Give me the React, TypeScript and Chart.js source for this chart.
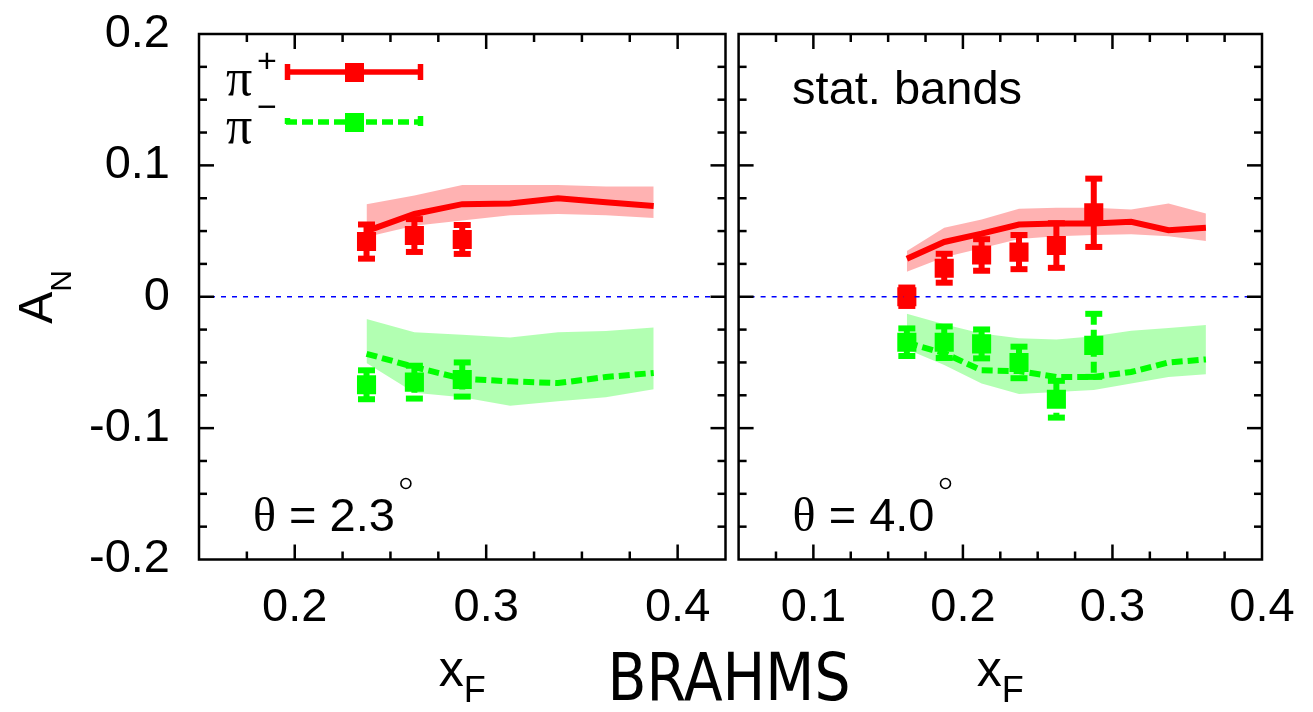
import React, { useEffect, useRef } from "react";
import { Chart, registerables } from "chart.js";
Chart.register(...registerables);

// ---------------- data ----------------
const xDataLeft = [0.2375, 0.2625, 0.2875];
const piPlusLeft = [0.042, 0.0466, 0.0436];
const piPlusErrLeft = [0.013, 0.0125, 0.011];
const piMinusLeft = [-0.067, -0.065, -0.063];
const piMinusErrLeft = [0.011, 0.0125, 0.013];

const xTheoryLeft = [0.2375, 0.2625, 0.2875, 0.3125, 0.3375, 0.3625, 0.3875];
const plusCurveLeft = [0.05, 0.063, 0.0705, 0.071, 0.075, 0.072, 0.069];
const plusUpperLeft = [0.0705, 0.077, 0.085, 0.085, 0.085, 0.084, 0.084];
const plusLowerLeft = [0.0455, 0.054, 0.058, 0.062, 0.063, 0.062, 0.06];
const minusCurveLeft = [-0.0434, -0.0535, -0.0624, -0.0644, -0.0657, -0.0611, -0.058];
const minusUpperLeft = [-0.017, -0.027, -0.029, -0.031, -0.027, -0.026, -0.0235];
const minusLowerLeft = [-0.0505, -0.073, -0.0765, -0.083, -0.0795, -0.0765, -0.0705];

const xDataRight = [0.1625, 0.1875, 0.2125, 0.2375, 0.2625, 0.2875];
const piPlusRight = [0.0, 0.0217, 0.0318, 0.034, 0.039, 0.0639];
const piPlusErrRight = [0.007, 0.011, 0.012, 0.013, 0.017, 0.026];
const piMinusRight = [-0.0346, -0.0346, -0.0359, -0.05, -0.078, -0.037];
const piMinusErrRight = [0.0105, 0.012, 0.011, 0.012, 0.014, 0.024];

const xTheoryRight = [0.1625, 0.1875, 0.2125, 0.2375, 0.2625, 0.2875, 0.3125, 0.3375, 0.3625];
const plusCurveRight = [0.029, 0.0417, 0.048, 0.055, 0.0558, 0.0558, 0.057, 0.0507, 0.0525];
const plusUpperRight = [0.0348, 0.0525, 0.0588, 0.067, 0.0677, 0.0677, 0.0664, 0.071, 0.0634];
const plusLowerRight = [0.019, 0.03, 0.037, 0.044, 0.046, 0.047, 0.0475, 0.046, 0.0424];
const minusCurveRight = [-0.035, -0.043, -0.056, -0.0566, -0.061, -0.061, -0.0573, -0.05, -0.0477];
const minusUpperRight = [-0.013, -0.021, -0.028, -0.0316, -0.0326, -0.03, -0.0258, -0.0237, -0.0215];
const minusLowerRight = [-0.04, -0.052, -0.066, -0.074, -0.0725, -0.071, -0.066, -0.061, -0.059];

const yTickValues = [-0.2, -0.1, 0, 0.1, 0.2];
const xTickValuesLeft = [0.2, 0.3, 0.4];
const xTickValuesRight = [0.1, 0.2, 0.3, 0.4];
const xRangeLeft = [0.15, 0.425];
const xRangeRight = [0.05, 0.4];
const yRange = [-0.2, 0.2];
const minorStep = 0.025;
const angleLabels = ["2.3", "4.0"];

// ---------------- styles ----------------
const W = 1313;
const H = 712;
const SANS = '"Liberation Sans", Arial, Helvetica, sans-serif';
const SERIF = '"Liberation Serif", "Times New Roman", serif';
const RED = "#ff0000";
const GREEN = "#00ff00";
const RED_BAND = "rgba(255,0,0,0.3)";
const GREEN_BAND = "rgba(0,255,0,0.3)";
const DASH = [11, 5];

const pts = (xs: number[], ys: number[]) => xs.map((x, i) => ({ x, y: ys[i] }));

function line(ctx: CanvasRenderingContext2D, x1: number, y1: number, x2: number, y2: number) {
  ctx.beginPath();
  ctx.moveTo(x1, y1);
  ctx.lineTo(x2, y2);
  ctx.stroke();
}

const errorBarPlugin = {
  id: "errbars",
  afterDatasetsDraw(chart: any) {
    const ctx = chart.ctx as CanvasRenderingContext2D;
    const ys = chart.scales.y;
    chart.data.datasets.forEach((ds: any, di: number) => {
      if (!ds.errors) return;
      const meta = chart.getDatasetMeta(di);
      ctx.save();
      ctx.strokeStyle = ds.backgroundColor;
      ctx.lineWidth = 6;
      meta.data.forEach((pt: any, i: number) => {
        const v = ds.data[i].y;
        const e = ds.errors[i];
        const top = ys.getPixelForValue(v + e);
        const bot = ys.getPixelForValue(v - e);
        ctx.setLineDash(ds.errDash || []);
        line(ctx, pt.x, top, pt.x, bot);
        ctx.setLineDash([]);
        line(ctx, pt.x - 8.5, top, pt.x + 8.5, top);
        line(ctx, pt.x - 8.5, bot, pt.x + 8.5, bot);
      });
      ctx.restore();
    });
  },
};

function drawFrame(chart: any, xr: number[]) {
  const ctx = chart.ctx as CanvasRenderingContext2D;
  const a = chart.chartArea;
  const xs = chart.scales.x;
  const ys = chart.scales.y;
  ctx.save();
  ctx.strokeStyle = "#000";
  ctx.lineWidth = 2.5;
  ctx.setLineDash([]);
  const nx = Math.round((xr[1] - xr[0]) / minorStep);
  for (let i = 1; i < nx; i++) {
    const v = xr[0] + i * minorStep;
    const major = Math.abs(v * 10 - Math.round(v * 10)) < 1e-6;
    const len = major ? 15 : 8;
    const px = xs.getPixelForValue(v);
    line(ctx, px, a.bottom, px, a.bottom - len);
    line(ctx, px, a.top, px, a.top + len);
  }
  const ny = Math.round((yRange[1] - yRange[0]) / minorStep);
  for (let i = 1; i < ny; i++) {
    const v = yRange[0] + i * minorStep;
    const major = Math.abs(v * 10 - Math.round(v * 10)) < 1e-6;
    const len = major ? 15 : 8;
    const py = ys.getPixelForValue(v);
    line(ctx, a.left, py, a.left + len, py);
    line(ctx, a.right, py, a.right - len, py);
  }
  ctx.strokeRect(a.left, a.top, a.right - a.left, a.bottom - a.top);
  ctx.restore();
}

function drawXTitle(ctx: CanvasRenderingContext2D, cx: number) {
  ctx.save();
  ctx.fillStyle = "#000";
  ctx.textBaseline = "alphabetic";
  ctx.textAlign = "left";
  ctx.font = `50px ${SANS}`;
  const wx = ctx.measureText("x").width;
  ctx.font = `36px ${SANS}`;
  const wf = ctx.measureText("F").width;
  const start = cx - (wx + wf) / 2;
  ctx.font = `50px ${SANS}`;
  ctx.fillText("x", start, 686);
  ctx.font = `36px ${SANS}`;
  ctx.fillText("F", start + wx, 702);
  ctx.restore();
}

function drawAngle(ctx: CanvasRenderingContext2D, x: number, baseline: number, val: string) {
  ctx.save();
  ctx.fillStyle = "#000";
  ctx.textAlign = "left";
  ctx.textBaseline = "alphabetic";
  ctx.font = `48px ${SERIF}`;
  ctx.fillText("θ", x, baseline);
  const wt = ctx.measureText("θ").width;
  ctx.font = `47px ${SANS}`;
  const txt = " = " + val;
  ctx.fillText(txt, x + wt, baseline);
  const w2 = ctx.measureText(txt).width;
  ctx.strokeStyle = "#000";
  ctx.lineWidth = 1.6;
  ctx.beginPath();
  ctx.arc(x + wt + w2 + 11, baseline - 47, 5, 0, Math.PI * 2);
  ctx.stroke();
  ctx.restore();
}

function makeConfig(side: "left" | "right") {
  const isLeft = side === "left";
  const xr = isLeft ? xRangeLeft : xRangeRight;
  const xD = isLeft ? xDataLeft : xDataRight;
  const xT = isLeft ? xTheoryLeft : xTheoryRight;
  const pP = isLeft ? piPlusLeft : piPlusRight;
  const pPe = isLeft ? piPlusErrLeft : piPlusErrRight;
  const pM = isLeft ? piMinusLeft : piMinusRight;
  const pMe = isLeft ? piMinusErrLeft : piMinusErrRight;
  const cP = isLeft ? plusCurveLeft : plusCurveRight;
  const uP = isLeft ? plusUpperLeft : plusUpperRight;
  const lP = isLeft ? plusLowerLeft : plusLowerRight;
  const cM = isLeft ? minusCurveLeft : minusCurveRight;
  const uM = isLeft ? minusUpperLeft : minusUpperRight;
  const lM = isLeft ? minusLowerLeft : minusLowerRight;
  const xTicks = isLeft ? xTickValuesLeft : xTickValuesRight;

  const decor = {
    id: "decor-" + side,
    afterDraw(chart: any) {
      const ctx = chart.ctx as CanvasRenderingContext2D;
      const a = chart.chartArea;
      drawFrame(chart, xr);
      drawXTitle(ctx, (a.left + a.right) / 2);
      drawAngle(ctx, a.left + 54, a.bottom - 29, isLeft ? angleLabels[0] : angleLabels[1]);
      ctx.save();
      ctx.fillStyle = "#000";
      ctx.textAlign = "left";
      ctx.textBaseline = "alphabetic";
      if (isLeft) {
        // legend
        ctx.font = `52px ${SERIF}`;
        ctx.fillText("π", 226, 95);
        ctx.fillText("π", 226, 143);
        ctx.font = `34px ${SANS}`;
        ctx.fillText("+", 257, 72);
        ctx.fillText("−", 257, 118);
        ctx.strokeStyle = RED;
        ctx.fillStyle = RED;
        ctx.lineWidth = 5.5;
        line(ctx, 286, 72, 422, 72);
        line(ctx, 287.5, 64, 287.5, 80);
        line(ctx, 420.5, 64, 420.5, 80);
        ctx.fillRect(345, 63, 19, 19);
        ctx.strokeStyle = GREEN;
        ctx.fillStyle = GREEN;
        ctx.setLineDash(DASH);
        line(ctx, 286, 122, 422, 122);
        ctx.setLineDash([]);
        line(ctx, 287.5, 118, 287.5, 124);
        line(ctx, 420.5, 116, 420.5, 126);
        ctx.fillRect(345, 113, 19, 19);
        // axis title A_N
        ctx.save();
        ctx.fillStyle = "#000";
        ctx.translate(52, 297);
        ctx.rotate(-Math.PI / 2);
        ctx.font = `48px ${SANS}`;
        const wa = ctx.measureText("A").width;
        ctx.font = `30px ${SANS}`;
        const wn = ctx.measureText("N").width;
        const st = -(wa + wn) / 2;
        ctx.font = `48px ${SANS}`;
        ctx.fillText("A", st, 0);
        ctx.font = `30px ${SANS}`;
        ctx.fillText("N", st + wa, 19);
        ctx.restore();
        // BRAHMS
        ctx.fillStyle = "#000";
        ctx.textAlign = "center";
        ctx.font = `66px "DejaVu Sans", ${SANS}`;
        ctx.fillText("BRAHMS", 729, 700, 243);
      } else {
        ctx.font = `47px ${SANS}`;
        ctx.fillText("stat. bands", a.left + 53.5, a.top + 70);
      }
      ctx.restore();
    },
  };

  const datasets: any[] = [
    {
      label: "zero",
      data: [
        { x: xr[0], y: 0 },
        { x: xr[1], y: 0 },
      ],
      borderColor: "#0000ff",
      borderWidth: 1.4,
      borderDash: [5, 6],
      pointRadius: 0,
      fill: false,
    },
    {
      label: "π+ data",
      data: pts(xD, pP),
      errors: pPe,
      showLine: false,
      pointStyle: "rect",
      pointRadius: 13.5,
      backgroundColor: RED,
      borderColor: RED,
      borderWidth: 0,
    },
    {
      label: "π- data",
      data: pts(xD, pM),
      errors: pMe,
      errDash: DASH,
      showLine: false,
      pointStyle: "rect",
      pointRadius: 13.5,
      backgroundColor: GREEN,
      borderColor: GREEN,
      borderWidth: 0,
    },
    {
      label: "π+ curve",
      data: pts(xT, cP),
      borderColor: RED,
      borderWidth: 6,
      pointRadius: 0,
      fill: false,
      borderJoinStyle: "miter",
    },
    {
      label: "π- curve",
      data: pts(xT, cM),
      borderColor: GREEN,
      borderWidth: 6,
      borderDash: DASH,
      pointRadius: 0,
      fill: false,
    },
    {
      label: "π+ upper",
      data: pts(xT, uP),
      borderColor: "transparent",
      borderWidth: 0,
      pointRadius: 0,
      backgroundColor: RED_BAND,
      fill: "+1",
    },
    {
      label: "π+ lower",
      data: pts(xT, lP),
      borderColor: "transparent",
      borderWidth: 0,
      pointRadius: 0,
      fill: false,
    },
    {
      label: "π- upper",
      data: pts(xT, uM),
      borderColor: "transparent",
      borderWidth: 0,
      pointRadius: 0,
      backgroundColor: GREEN_BAND,
      fill: "+1",
    },
    {
      label: "π- lower",
      data: pts(xT, lM),
      borderColor: "transparent",
      borderWidth: 0,
      pointRadius: 0,
      fill: false,
    },
  ];

  const plotLeft = isLeft ? 199 : 738.6;
  const plotRight = isLeft ? 725.5 : 1262;
  const plotTop = 34;
  const plotBottom = 559.5;

  return {
    type: "line",
    data: { datasets },
    options: {
      animation: false,
      responsive: false,
      devicePixelRatio: 1,
      events: [],
      layout: {
        padding: {
          left: isLeft ? 0 : plotLeft,
          right: W - plotRight,
          top: plotTop,
          bottom: 0,
        },
      },
      plugins: {
        legend: { display: false },
        tooltip: { enabled: false },
      },
      scales: {
        x: {
          type: "linear",
          min: xr[0],
          max: xr[1],
          grid: { display: false, drawTicks: false },
          border: { display: false },
          afterBuildTicks: (s: any) => {
            s.ticks = xTicks.map((v) => ({ value: v }));
          },
          afterFit: (s: any) => {
            s.height = H - plotBottom;
            s.paddingLeft = 0;
            s.paddingRight = 0;
          },
          ticks: {
            padding: 20,
            color: "#000",
            font: { family: SANS, size: 47 },
            maxRotation: 0,
            autoSkip: false,
            callback: (v: number) => v.toFixed(1),
          },
        },
        y: {
          type: "linear",
          display: isLeft,
          min: yRange[0],
          max: yRange[1],
          grid: { display: false, drawTicks: false },
          border: { display: false },
          afterBuildTicks: (s: any) => {
            s.ticks = yTickValues.map((v) => ({ value: v }));
          },
          afterFit: (s: any) => {
            s.width = isLeft ? plotLeft : 0;
            s.paddingTop = 0;
            s.paddingBottom = 0;
          },
          ticks: {
            padding: 29,
            color: "#000",
            font: { family: SANS, size: 47 },
            autoSkip: false,
            callback: (v: number) => (Math.abs(v) < 1e-9 ? "0" : v.toFixed(1)),
          },
        },
      },
    },
    plugins: [errorBarPlugin, decor],
  };
}

export default function App() {
  const leftRef = useRef<HTMLCanvasElement>(null);
  const rightRef = useRef<HTMLCanvasElement>(null);

  useEffect(() => {
    const c1 = new Chart(leftRef.current as HTMLCanvasElement, makeConfig("left") as any);
    const c2 = new Chart(rightRef.current as HTMLCanvasElement, makeConfig("right") as any);
    return () => {
      c1.destroy();
      c2.destroy();
    };
  }, []);

  const cs: React.CSSProperties = { position: "absolute", left: 0, top: 0, width: W, height: H };
  return (
    <div style={{ position: "fixed", left: 0, top: 0, width: W, height: H, background: "#fff" }}>
      <canvas ref={leftRef} width={W} height={H} style={cs} />
      <canvas ref={rightRef} width={W} height={H} style={cs} />
    </div>
  );
}
